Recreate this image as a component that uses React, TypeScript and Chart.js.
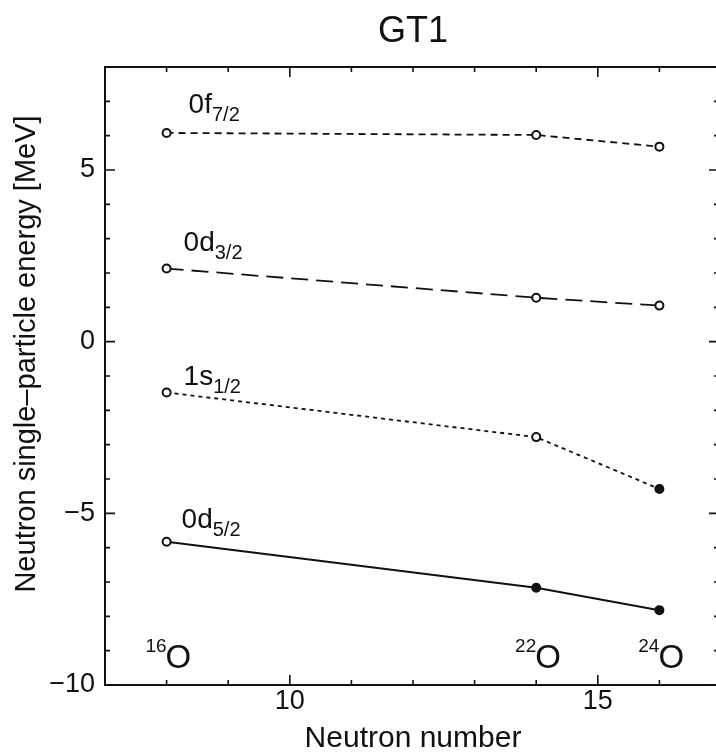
import React, { useEffect, useRef } from "react";
import { Chart, registerables } from "chart.js";

Chart.register(...registerables);

// ---- data ----
const neutronNumbers = [8, 14, 16];
const f72Energies = [6.08, 6.02, 5.68];
const d32Energies = [2.13, 1.28, 1.05];
const s12Energies = [-1.48, -2.78, -4.29];
const d52Energies = [-5.83, -7.17, -7.82];
const f72Bound = [false, false, false];
const d32Bound = [false, false, false];
const s12Bound = [false, false, true];
const d52Bound = [false, true, true];
const orbitalNames = ["0f", "0d", "1s", "0d"];
const orbitalSubs = ["7/2", "3/2", "1/2", "5/2"];
const massNumbers = ["16", "22", "24"];
const elementSymbol = "O";
const xTickValues = [10, 15];
const yTickValues = [-10, -5, 0, 5];
const titleText = "GT1";
const xTitle = "Neutron number";
const yTitle = "Neutron single\u2013particle energy [MeV]";

const FONT = '"Liberation Sans", Arial, Helvetica, sans-serif';
const INK = "#111";

function drawText(
  ctx: CanvasRenderingContext2D,
  text: string,
  x: number,
  y: number,
  size: number,
  align: CanvasTextAlign = "left",
  baseline: CanvasTextBaseline = "alphabetic"
): number {
  ctx.save();
  ctx.font = `${size}px ${FONT}`;
  ctx.textAlign = align;
  ctx.textBaseline = baseline;
  ctx.fillStyle = INK;
  ctx.fillText(text, x, y);
  const w = ctx.measureText(text).width;
  ctx.restore();
  return w;
}

// label offsets relative to the first point of each series (layout only)
const labelOffsets = [
  { dx: 22, dy: -20 },
  { dx: 17, dy: -18 },
  { dx: 17, dy: -7 },
  { dx: 15, dy: -14 },
];

const framePlugin = {
  id: "framePlugin",
  beforeDatasetsDraw(chart: any) {
    const { ctx, chartArea } = chart;
    const { left, right, top, bottom } = chartArea;
    const xs = chart.scales.x;
    const ys = chart.scales.y;
    ctx.save();
    ctx.strokeStyle = INK;
    ctx.lineWidth = 2;
    ctx.strokeRect(left, top, right - left, bottom - top);
    ctx.lineWidth = 1.6;
    ctx.beginPath();
    for (let v = Math.ceil(xs.min); v <= xs.max; v++) {
      const len = v % 5 === 0 ? 10 : 5;
      const px = xs.getPixelForValue(v);
      ctx.moveTo(px, bottom);
      ctx.lineTo(px, bottom - len);
      ctx.moveTo(px, top);
      ctx.lineTo(px, top + len);
    }
    for (let v = Math.ceil(ys.min); v <= ys.max; v++) {
      const len = v % 5 === 0 ? 12 : 7;
      const py = ys.getPixelForValue(v);
      ctx.moveTo(left, py);
      ctx.lineTo(left + (v % 5 === 0 ? 10 : 5), py);
      ctx.moveTo(right, py);
      ctx.lineTo(right - len, py);
    }
    ctx.stroke();
    ctx.restore();
  },
  afterDraw(chart: any) {
    const { ctx, chartArea } = chart;
    const xs = chart.scales.x;
    const ys = chart.scales.y;
    const series = [f72Energies, d32Energies, s12Energies, d52Energies];
    series.forEach((vals, i) => {
      const px = xs.getPixelForValue(neutronNumbers[0]) + labelOffsets[i].dx;
      const py = ys.getPixelForValue(vals[0]) + labelOffsets[i].dy;
      const w = drawText(ctx, orbitalNames[i], px, py, 28);
      drawText(ctx, orbitalSubs[i], px + w, py + 8, 20);
    });
    neutronNumbers.forEach((n, i) => {
      const px = xs.getPixelForValue(n);
      drawText(ctx, massNumbers[i], px, chartArea.bottom - 33, 19, "right");
      drawText(ctx, elementSymbol, px - 1, chartArea.bottom - 17, 33, "left");
    });
    const cx = (chartArea.left + chartArea.right) / 2;
    drawText(ctx, titleText, cx, 42, 36, "center");
    drawText(ctx, xTitle, cx, 747, 30, "center");
    ctx.save();
    ctx.translate(27, 354);
    ctx.rotate(-Math.PI / 2);
    ctx.font = `29px ${FONT}`;
    ctx.textAlign = "center";
    ctx.textBaseline = "middle";
    ctx.fillStyle = INK;
    ctx.fillText(yTitle, 0, 0);
    ctx.restore();
  },
};

function makeDataset(vals: number[], bound: boolean[], dash: number[], width: number) {
  return {
    data: neutronNumbers.map((n, i) => ({ x: n, y: vals[i] })),
    borderColor: INK,
    borderWidth: width,
    borderDash: dash,
    pointRadius: 4,
    pointBorderWidth: 2,
    pointBorderColor: INK,
    pointBackgroundColor: bound.map((b) => (b ? INK : "#fff")),
    pointStyle: "circle",
    fill: false,
    tension: 0,
  };
}

export default function App() {
  const canvasRef = useRef<HTMLCanvasElement | null>(null);

  useEffect(() => {
    document.body.style.margin = "0";
    document.body.style.overflow = "hidden";
    const canvas = canvasRef.current;
    if (!canvas) return;
    const chart = new Chart(canvas, {
      type: "line",
      data: {
        datasets: [
          makeDataset(f72Energies, f72Bound, [7, 5], 1.8),
          makeDataset(d32Energies, d32Bound, [17, 8], 1.8),
          makeDataset(s12Energies, s12Bound, [4, 4], 1.8),
          makeDataset(d52Energies, d52Bound, [], 2),
        ] as any,
      },
      options: {
        responsive: false,
        animation: false,
        devicePixelRatio: 1,
        layout: { autoPadding: false, padding: { top: 67, left: 0, right: 1, bottom: 0 } },
        plugins: {
          legend: { display: false },
          tooltip: { enabled: false },
        },
        scales: {
          x: {
            type: "linear",
            min: 7,
            max: 17,
            grid: { display: false, drawTicks: false },
            border: { display: false },
            ticks: {
              color: INK,
              font: { family: FONT, size: 27 },
              padding: 0,
              maxRotation: 0,
            },
            afterBuildTicks: (s: any) => {
              s.ticks = xTickValues.map((v) => ({ value: v }));
            },
            afterFit: (s: any) => {
              s.height = 69;
            },
          },
          y: {
            type: "linear",
            min: -10,
            max: 8,
            grid: { display: false, drawTicks: false },
            border: { display: false },
            ticks: {
              color: INK,
              font: { family: FONT, size: 27 },
              padding: 10,
              callback: (v: any) => (Number(v) < 0 ? "\u2212" + Math.abs(Number(v)) : String(v)),
            },
            afterBuildTicks: (s: any) => {
              s.ticks = yTickValues.map((v) => ({ value: v }));
            },
            afterFit: (s: any) => {
              s.width = 105;
            },
          },
        },
      } as any,
      plugins: [framePlugin],
    });
    return () => chart.destroy();
  }, []);

  return (
    <div style={{ width: 716, height: 754, overflow: "hidden", background: "#fff" }}>
      <canvas ref={canvasRef} width={722} height={754} style={{ display: "block" }} />
    </div>
  );
}
